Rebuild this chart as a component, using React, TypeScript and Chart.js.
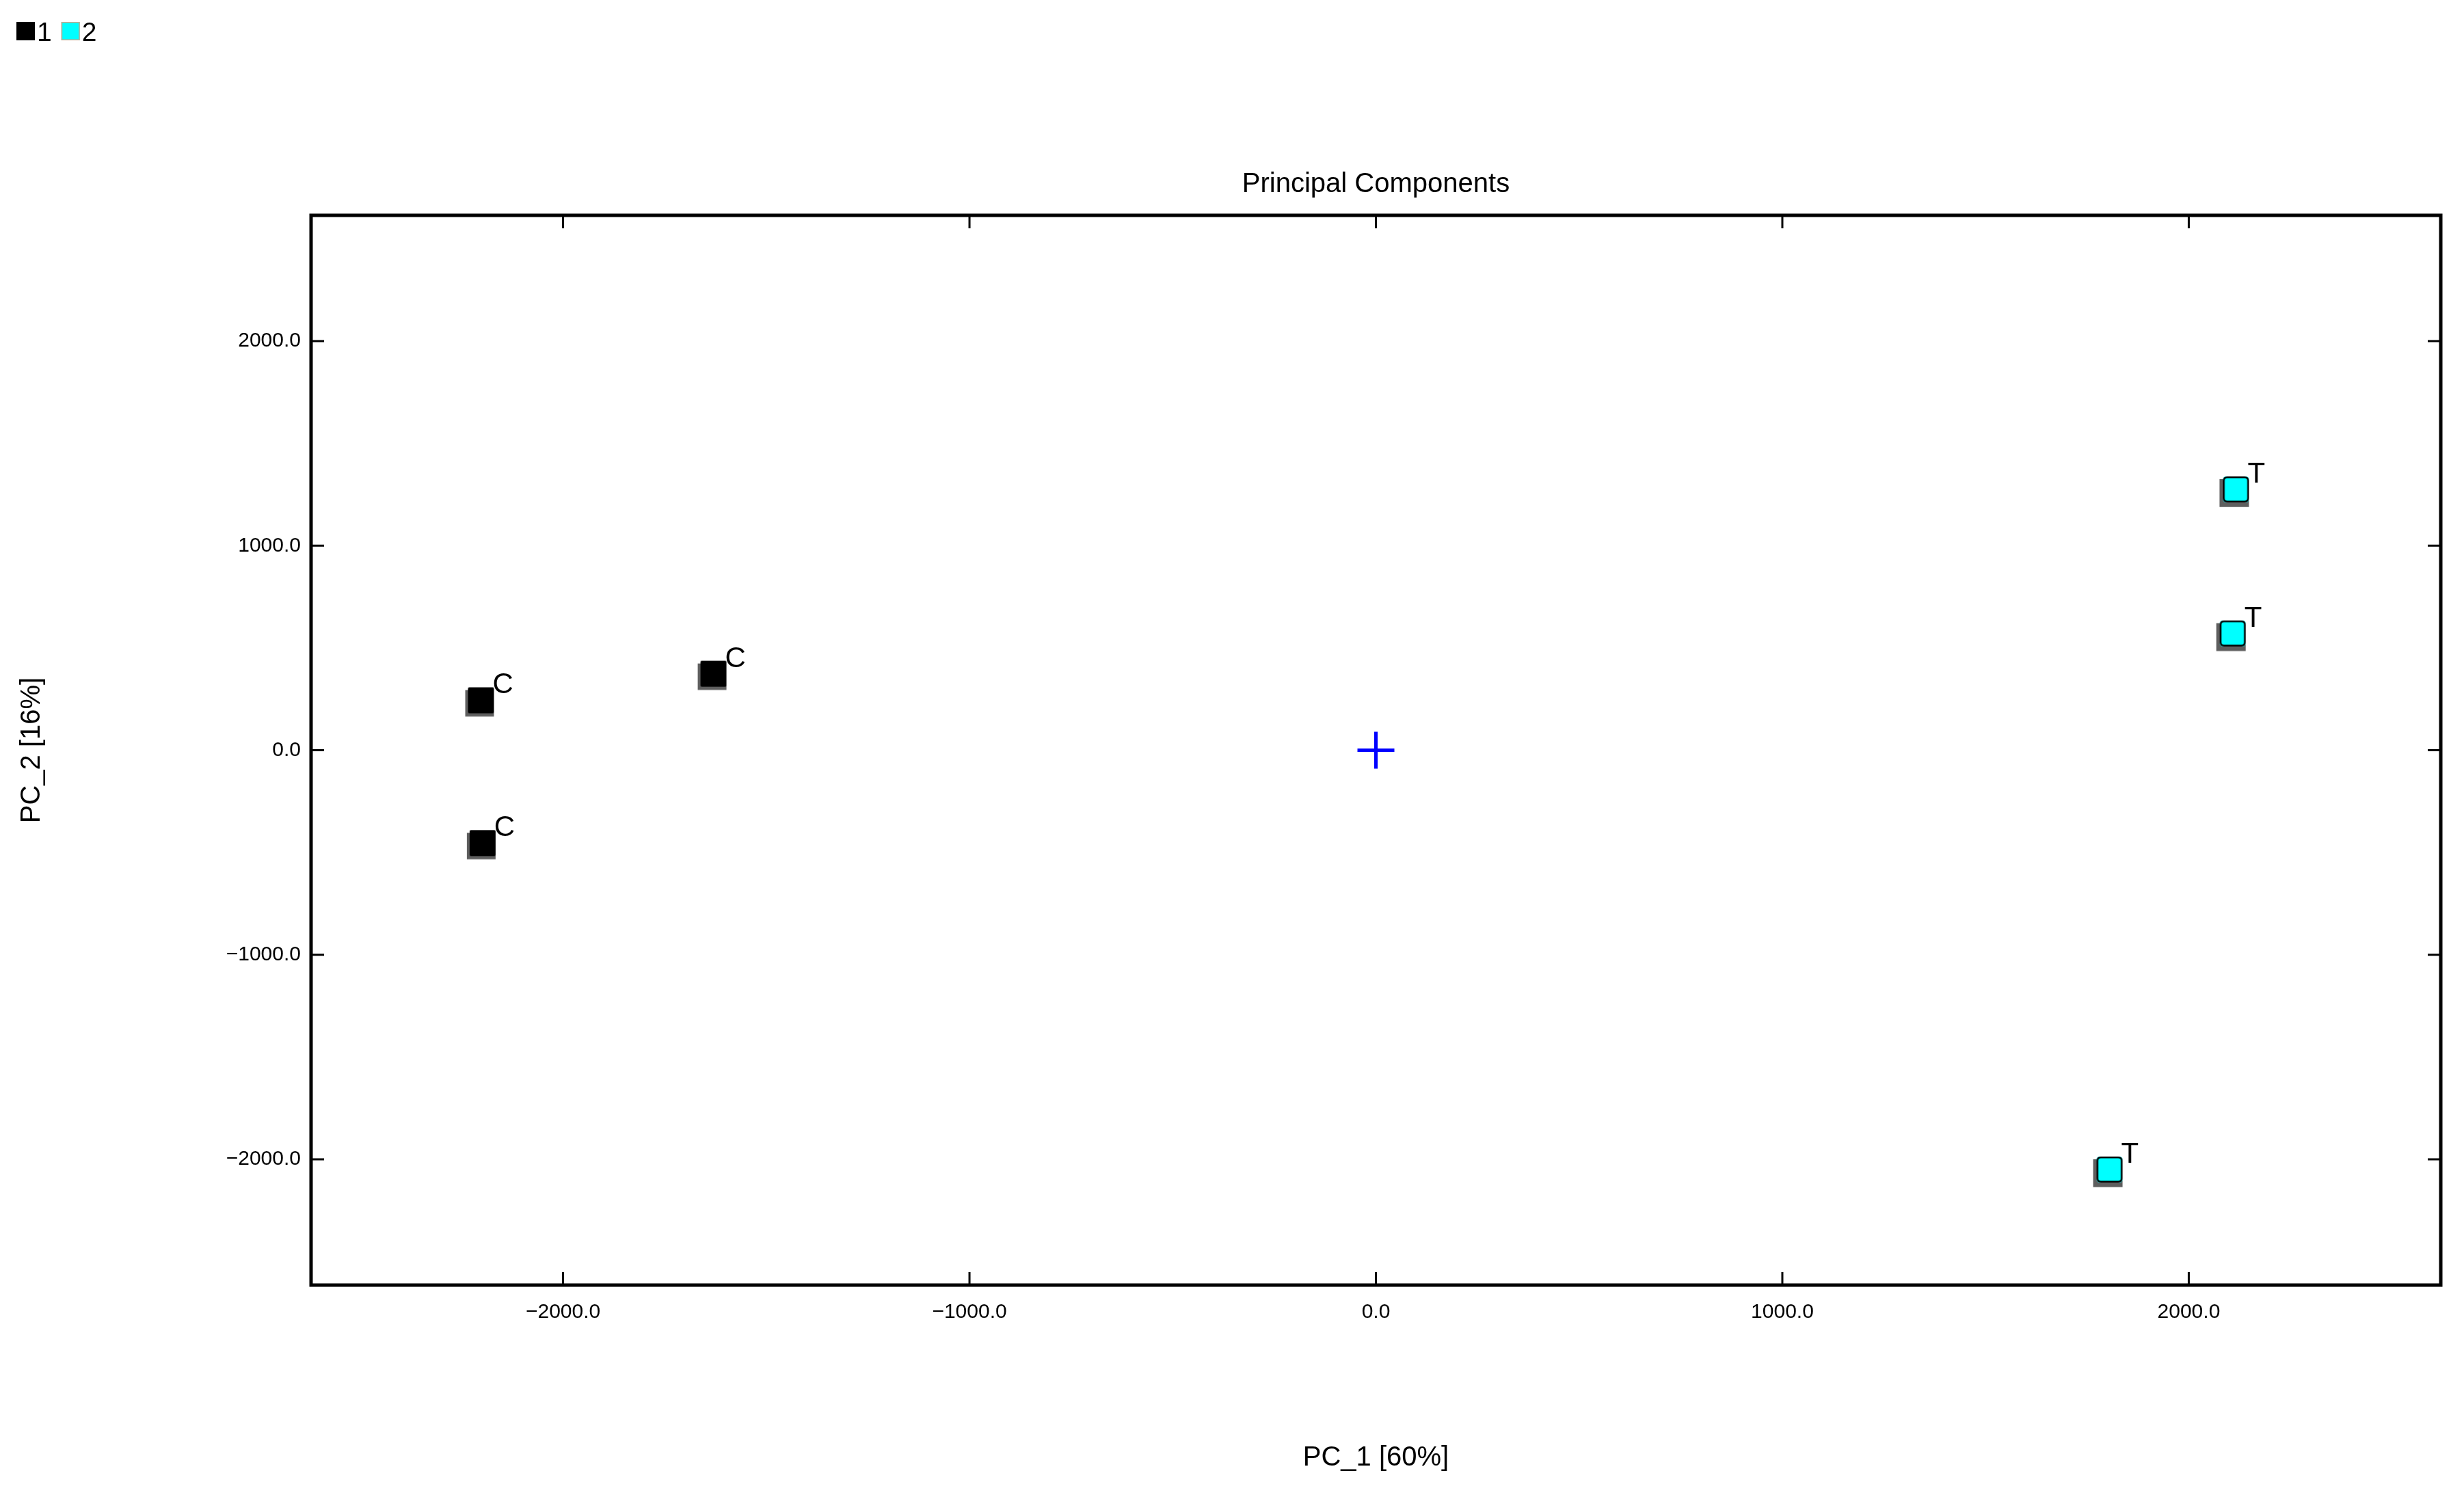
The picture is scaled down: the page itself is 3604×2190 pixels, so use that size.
import { useEffect, useRef } from "react";
import { Chart, registerables } from "chart.js";

Chart.register(...registerables);

// ---- data ----
const seriesNames = ["1", "2"];
const series1X = [-2202, -2198, -1630];
const series1Y = [244, -454, 374];
const series1Labels = ["C", "C", "C"];
const series2X = [2116, 2108, 1805];
const series2Y = [1275, 571, -2050];
const series2Labels = ["T", "T", "T"];
const originX = [0];
const originY = [0];
const xTicks = [-2000, -1000, 0, 1000, 2000];
const yTicks = [-2000, -1000, 0, 1000, 2000];
const xRange = [-2620, 2620];
const yRange = [-2615, 2615];
const titleText = "Principal Components";
const xTitle = "PC_1 [60%]";
const yTitle = "PC_2 [16%]";

const FONT = '"Liberation Sans", Arial, Helvetica, sans-serif';

function fmt(v: number): string {
  const s = Math.abs(v).toFixed(1);
  return v < 0 ? "\u2212" + s : s;
}

function makeMarker(fill: string, stroke: string | null, radius: number, sx: number, sy: number): HTMLCanvasElement {
  const S = 38;
  const pad = 9;
  const c = document.createElement("canvas");
  c.width = S + pad * 2;
  c.height = S + pad * 2;
  const ctx = c.getContext("2d") as CanvasRenderingContext2D;
  const x0 = pad;
  const y0 = pad;
  // shadow (left & bottom)
  ctx.fillStyle = "#5e5e5e";
  ctx.fillRect(x0 - sx, y0 + 4, S + sx, S + sy - 4);
  ctx.fillStyle = "#8a8a8a";
  ctx.fillRect(x0 - sx, y0 + S + sy - 1, S + sx, 1);
  // main square
  const rr = (x: number, y: number, w: number, h: number, r: number) => {
    ctx.beginPath();
    ctx.moveTo(x + r, y);
    ctx.lineTo(x + w - r, y);
    ctx.quadraticCurveTo(x + w, y, x + w, y + r);
    ctx.lineTo(x + w, y + h - r);
    ctx.quadraticCurveTo(x + w, y + h, x + w - r, y + h);
    ctx.lineTo(x + r, y + h);
    ctx.quadraticCurveTo(x, y + h, x, y + h - r);
    ctx.lineTo(x, y + r);
    ctx.quadraticCurveTo(x, y, x + r, y);
    ctx.closePath();
  };
  rr(x0, y0, S, S, radius);
  ctx.fillStyle = fill;
  ctx.fill();
  if (stroke) {
    ctx.lineWidth = 2.5;
    ctx.strokeStyle = stroke;
    rr(x0 + 1.25, y0 + 1.25, S - 2.5, S - 2.5, radius);
    ctx.stroke();
  }
  return c;
}

const legendPlugin = {
  id: "customLegend",
  afterDraw(chart: any) {
    const ctx = chart.ctx as CanvasRenderingContext2D;
    ctx.save();
    ctx.font = `39px ${FONT}`;
    ctx.textBaseline = "alphabetic";
    ctx.textAlign = "left";
    let x = 24;
    const top = 32;
    const box = 27;
    chart.data.datasets.forEach((ds: any) => {
      if (!ds.inLegend) return;
      ctx.fillStyle = ds.legendFill;
      ctx.fillRect(x, top, box, box);
      if (ds.legendStroke) {
        ctx.strokeStyle = ds.legendStroke;
        ctx.lineWidth = 1.5;
        ctx.strokeRect(x + 0.75, top + 0.75, box - 1.5, box - 1.5);
      }
      x += box + 3;
      ctx.fillStyle = "#000";
      ctx.fillText(ds.label, x, 60);
      x += ctx.measureText(ds.label).width + 14;
    });
    ctx.restore();
  },
};

const framePlugin = {
  id: "frame",
  beforeDatasetsDraw(chart: any) {
    const { ctx, chartArea } = chart;
    const { left, right, top, bottom } = chartArea;
    const xs = chart.scales.x;
    const ys = chart.scales.y;
    ctx.save();
    ctx.strokeStyle = "#000";
    ctx.lineWidth = 3;
    const tl = 19;
    ctx.beginPath();
    xTicks.forEach((v) => {
      const px = xs.getPixelForValue(v);
      ctx.moveTo(px, bottom);
      ctx.lineTo(px, bottom - tl);
      ctx.moveTo(px, top);
      ctx.lineTo(px, top + tl);
    });
    yTicks.forEach((v) => {
      const py = ys.getPixelForValue(v);
      ctx.moveTo(left, py);
      ctx.lineTo(left + tl, py);
      ctx.moveTo(right, py);
      ctx.lineTo(right - tl, py);
    });
    ctx.stroke();
    ctx.lineWidth = 5;
    ctx.strokeRect(left, top, right - left, bottom - top);
    ctx.restore();
  },
};

const pointLabelPlugin = {
  id: "pointLabels",
  afterDatasetsDraw(chart: any) {
    const ctx = chart.ctx as CanvasRenderingContext2D;
    ctx.save();
    ctx.font = `42px ${FONT}`;
    ctx.fillStyle = "#000";
    ctx.textAlign = "left";
    ctx.textBaseline = "alphabetic";
    chart.data.datasets.forEach((ds: any, i: number) => {
      if (!ds.pointLabels) return;
      const meta = chart.getDatasetMeta(i);
      meta.data.forEach((el: any, j: number) => {
        ctx.fillText(ds.pointLabels[j], el.x + 17, el.y - 10);
      });
    });
    ctx.restore();
  },
};

export default function App() {
  const ref = useRef<HTMLCanvasElement | null>(null);

  useEffect(() => {
    if (!ref.current) return;
    const blackMarker = makeMarker("#000000", null, 2, 4, 5);
    const cyanMarker = makeMarker("#00ffff", "#000000", 5, 5, 7);

    const chart = new Chart(ref.current, {
      type: "scatter",
      data: {
        datasets: [
          {
            label: seriesNames[0],
            data: series1X.map((x, i) => ({ x, y: series1Y[i] })),
            pointStyle: blackMarker as any,
            pointRadius: 20,
            backgroundColor: "#000",
            borderColor: "#000",
            inLegend: true,
            legendFill: "#000000",
            legendStroke: null,
            pointLabels: series1Labels,
          } as any,
          {
            label: seriesNames[1],
            data: series2X.map((x, i) => ({ x, y: series2Y[i] })),
            pointStyle: cyanMarker as any,
            pointRadius: 20,
            backgroundColor: "#00ffff",
            borderColor: "#000",
            inLegend: true,
            legendFill: "#00ffff",
            legendStroke: "#c9a68a",
            pointLabels: series2Labels,
          } as any,
          {
            label: "origin",
            data: originX.map((x, i) => ({ x, y: originY[i] })),
            pointStyle: "cross",
            pointRadius: 27,
            pointBorderWidth: 5,
            borderWidth: 5,
            borderColor: "#0000ff",
            backgroundColor: "#0000ff",
          } as any,
        ],
      },
      options: {
        responsive: false,
        animation: false,
        events: [],
        layout: { padding: { left: 0, top: 0, right: 34, bottom: 0 } },
        plugins: {
          legend: { display: false },
          tooltip: { enabled: false },
          title: {
            display: true,
            text: titleText,
            fullSize: false,
            color: "#000",
            font: { family: FONT, size: 40, weight: "normal" },
            padding: { top: 246, bottom: 21 },
          },
        },
        scales: {
          x: {
            type: "linear",
            position: "bottom",
            min: xRange[0],
            max: xRange[1],
            grid: { display: false, drawTicks: false },
            border: { display: false },
            afterBuildTicks: (s: any) => {
              s.ticks = xTicks.map((v) => ({ value: v }));
            },
            afterFit: (s: any) => {
              s.height = 310;
            },
            ticks: {
              color: "#000",
              padding: 22,
              maxRotation: 0,
              autoSkip: false,
              font: { family: FONT, size: 30 },
              callback: (v: any) => fmt(Number(v)),
            },
            title: {
              display: true,
              text: xTitle,
              color: "#000",
              font: { family: FONT, size: 40 },
              padding: { top: 0, bottom: 33 },
            },
          },
          y: {
            type: "linear",
            position: "left",
            min: yRange[0],
            max: yRange[1],
            grid: { display: false, drawTicks: false },
            border: { display: false },
            afterBuildTicks: (s: any) => {
              s.ticks = yTicks.map((v) => ({ value: v }));
            },
            afterFit: (s: any) => {
              s.width = 455;
            },
            ticks: {
              color: "#000",
              padding: 15,
              autoSkip: false,
              font: { family: FONT, size: 30 },
              callback: (v: any) => fmt(Number(v)),
            },
            title: {
              display: true,
              text: yTitle,
              color: "#000",
              font: { family: FONT, size: 40 },
              padding: { top: 23, bottom: 0 },
            },
          },
        },
      } as any,
      plugins: [framePlugin, pointLabelPlugin, legendPlugin],
    });
    return () => chart.destroy();
  }, []);

  return (
    <div style={{ position: "fixed", left: 0, top: 0, width: 3604, height: 2190, background: "#fff" }}>
      <canvas ref={ref} width={3604} height={2190} style={{ display: "block", width: 3604, height: 2190 }} />
    </div>
  );
}
